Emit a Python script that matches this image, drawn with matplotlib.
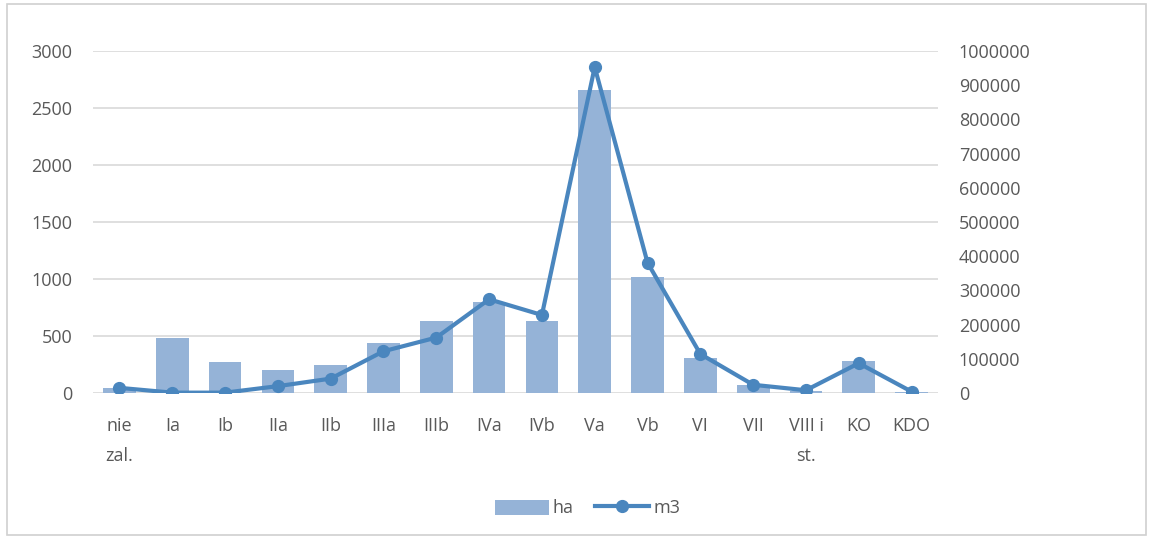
import matplotlib
matplotlib.use("Agg")
import matplotlib.pyplot as plt
from matplotlib.patches import Rectangle
from matplotlib.lines import Line2D
from matplotlib.patches import Patch
import numpy as np

plt.rcParams['font.family'] = ['Open Sans', 'DejaVu Sans']

categories = ["nie\nzal.", "Ia", "Ib", "IIa", "IIb", "IIIa", "IIIb", "IVa", "IVb",
              "Va", "Vb", "VI", "VII", "VIII i\nst.", "KO", "KDO"]
area_ha = [45, 481, 271, 205, 247, 436, 632, 796, 632, 2660, 1020, 310, 73, 20, 280, 10]
volume_m3 = [15000, 1000, 1000, 20000, 42000, 122000, 162000, 274000, 228000,
             953000, 381000, 114000, 24000, 8000, 87000, 4000]

left_ticks = [0, 500, 1000, 1500, 2000, 2500, 3000]
right_ticks = [0, 100000, 200000, 300000, 400000, 500000, 600000, 700000, 800000, 900000, 1000000]

bar_color = "#95B3D7"
line_color = "#4A86BE"
text_color = "#595959"
grid_color = "#D9D9D9"

fig = plt.figure(figsize=(11.53, 5.39), dpi=100)
fig.patches.append(Rectangle((0.006, 0.008), 0.988, 0.984, transform=fig.transFigure,
                             fill=False, edgecolor="#D0D0D0", linewidth=1.2))

ax = fig.add_axes([0.0807, 0.2709, 0.7328, 0.6345])
x = np.arange(len(categories))
ax.bar(x, area_ha, width=0.62, color=bar_color, zorder=2)
ax.set_xlim(-0.5, len(categories) - 0.5)
ax.set_ylim(0, 3000)
ax.set_yticks(left_ticks)
ax.set_yticklabels([str(v) for v in left_ticks])
ax.yaxis.grid(True, color=grid_color, linewidth=1.2, zorder=0)
ax.set_axisbelow(True)
for s in ax.spines.values():
    s.set_visible(False)
ax.tick_params(axis='y', length=0, pad=15, labelsize=13, labelcolor=text_color)
ax.set_xticks(x)
ax.set_xticklabels(categories, linespacing=1.9, va='top')
ax.tick_params(axis='x', length=0, pad=17, labelsize=13, labelcolor=text_color)

ax2 = ax.twinx()
ax2.plot(x, volume_m3, color=line_color, linewidth=3.0, marker='o', markersize=8.5, zorder=3)
ax2.set_ylim(0, 1000000)
ax2.set_yticks(right_ticks)
ax2.set_yticklabels([str(v) for v in right_ticks])
for s in ax2.spines.values():
    s.set_visible(False)
ax2.tick_params(axis='y', length=0, pad=15, labelsize=13, labelcolor=text_color)

handles = [Patch(facecolor=bar_color, edgecolor='none'),
           Line2D([0], [0], color=line_color, linewidth=3.0, marker='o', markersize=8.5)]
fig.legend(handles, ["ha", "m3"], loc='center', bbox_to_anchor=(0.5095, 0.057), ncol=2,
           frameon=False, fontsize=13, labelcolor=text_color, handlelength=3.0,
           handletextpad=0.2, columnspacing=1.2, handleheight=0.9)

fig.savefig("out.png", dpi=100)
